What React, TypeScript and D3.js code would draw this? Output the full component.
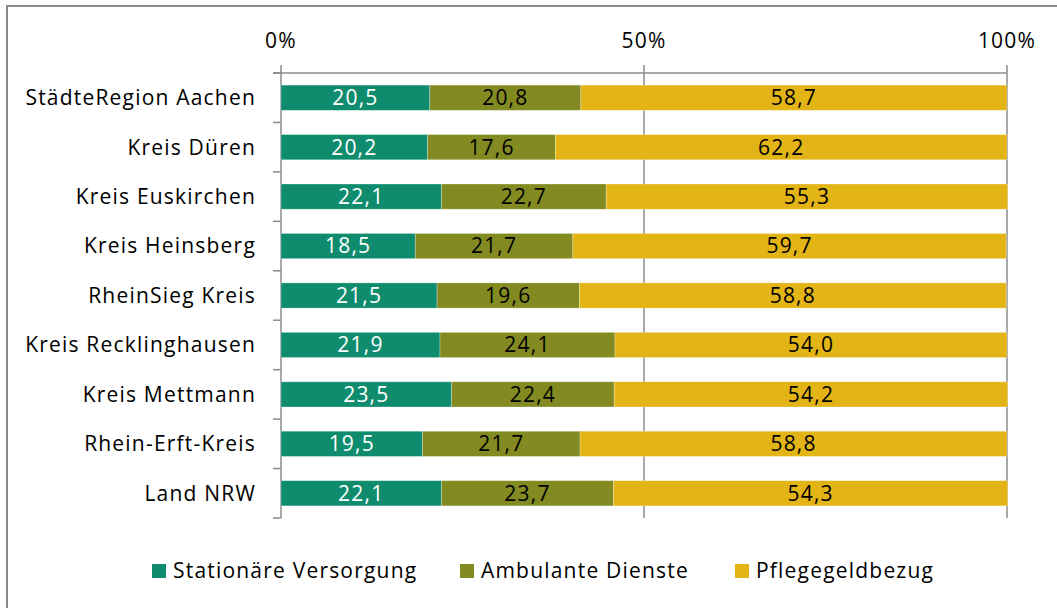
import React from "react";
import * as d3 from "d3";

const regions = [
  "StädteRegion Aachen",
  "Kreis Düren",
  "Kreis Euskirchen",
  "Kreis Heinsberg",
  "RheinSieg Kreis",
  "Kreis Recklinghausen",
  "Kreis Mettmann",
  "Rhein-Erft-Kreis",
  "Land NRW",
];
const stationaer = [20.5, 20.2, 22.1, 18.5, 21.5, 21.9, 23.5, 19.5, 22.1];
const ambulant = [20.8, 17.6, 22.7, 21.7, 19.6, 24.1, 22.4, 21.7, 23.7];
const pflegegeld = [58.7, 62.2, 55.3, 59.7, 58.8, 54.0, 54.2, 58.8, 54.3];

const seriesNames = ["Stationäre Versorgung", "Ambulante Dienste", "Pflegegeldbezug"];
const seriesColors = ["#0f8c6e", "#828a21", "#e2b416"];
const labelColors = ["#ffffff", "#000000", "#000000"];
const ticks = [0, 50, 100];

const W = 1057;
const H = 608;
const FONT = "'Open Sans', sans-serif";
const FS = 21;
const LS = 1.2;

export default function App() {
  const x = d3.scaleLinear().domain([0, 100]).range([281, 1007]);
  const y = d3.scaleBand().domain(regions).range([73, 518]).paddingInner(0.49).paddingOuter(0.245);
  const step = y.step();

  const rows = regions.map((r, i) => {
    const vals = [stationaer[i], ambulant[i], pflegegeld[i]];
    let acc = 0;
    return vals.map((v, k) => {
      const x0 = acc;
      acc += v;
      return { region: r, k, v, x0, x1: acc };
    });
  });

  const fmt = (v: number) => v.toFixed(1).replace(".", ",");
  const legendX = [152, 460, 735];

  return (
    <svg
      width={W}
      height={H}
      style={{ position: "absolute", left: 0, top: 0, background: "#fff" }}
      fontFamily={FONT}
      fontSize={FS}
      letterSpacing={LS}
    >
      <rect x={7} y={6} width={W + 10} height={H + 10} fill="#fff" stroke="#898989" strokeWidth={2} />

      {/* gridlines at 50% and 100% */}
      {ticks.slice(1).map((t) => (
        <line key={t} x1={x(t)} x2={x(t)} y1={65} y2={518} stroke="#8c8c8c" strokeWidth={1.5} />
      ))}
      {/* top axis and category axis */}
      <line x1={273} x2={x(100)} y1={73} y2={73} stroke="#8c8c8c" strokeWidth={1.5} />
      <line x1={x(0)} x2={x(0)} y1={65} y2={518} stroke="#8c8c8c" strokeWidth={1.5} />
      {d3.range(regions.length + 1).map((i) => (
        <line key={i} x1={273} x2={x(0)} y1={73 + i * step} y2={73 + i * step} stroke="#8c8c8c" strokeWidth={1.5} />
      ))}
      {ticks.map((t) => (
        <text key={t} x={x(t)} y={48} textAnchor="middle" fill="#000">
          {t}%
        </text>
      ))}

      {rows.map((segs, i) => (
        <g key={regions[i]}>
          <text x={256} y={(y(regions[i]) as number) + y.bandwidth() / 2} dy="0.35em" textAnchor="end" fill="#000">
            {regions[i]}
          </text>
          {segs.map((s) => (
            <g key={s.k}>
              <rect
                x={x(s.x0)}
                y={y(s.region)}
                width={x(s.x1) - x(s.x0)}
                height={y.bandwidth()}
                fill={seriesColors[s.k]}
                stroke="#ffffff"
                strokeOpacity={0.35}
                strokeWidth={0.8}
              />
              <text
                x={(x(s.x0) + x(s.x1)) / 2}
                y={(y(s.region) as number) + y.bandwidth() / 2}
                dy="0.35em"
                textAnchor="middle"
                fill={labelColors[s.k]}
              >
                {fmt(s.v)}
              </text>
            </g>
          ))}
        </g>
      ))}

      {seriesNames.map((n, k) => (
        <g key={n}>
          <rect x={legendX[k]} y={564} width={14} height={14} fill={seriesColors[k]} />
          <text x={legendX[k] + 21} y={571} dy="0.35em" fill="#000">
            {n}
          </text>
        </g>
      ))}
    </svg>
  );
}
